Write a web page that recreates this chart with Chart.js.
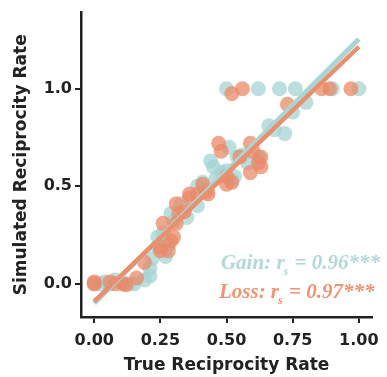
<!DOCTYPE html>
<html><head><meta charset="utf-8">
<script src="https://cdn.jsdelivr.net/npm/chart.js@4.4.1/dist/chart.umd.min.js"></script>
<style>html,body{margin:0;padding:0;background:#fff}#wrap{width:387px;height:377px}</style>
</head><body><div id="wrap"><canvas id="c" width="387" height="377"></canvas></div>
<script>
// ---- data ----
const gainX = [0.00,0.02,0.04,0.06,0.08,0.10,0.13,0.15,0.19,0.21,0.21,0.22,0.24,0.24,0.26,0.27,0.28,0.29,0.30,0.33,0.34,0.35,0.39,0.39,0.41,0.43,0.44,0.45,0.46,0.48,0.50,0.51,0.52,0.53,0.54,0.56,0.58,0.62,0.66,0.68,0.72,0.75,0.80,0.50,0.62,0.70,0.76,0.90,1.00];
const gainY = [0.00,0.00,0.01,0.00,0.02,0.01,0.00,0.00,0.02,0.04,0.08,0.13,0.19,0.24,0.26,0.14,0.20,0.36,0.32,0.41,0.37,0.34,0.40,0.50,0.52,0.48,0.63,0.60,0.54,0.57,0.58,0.70,0.53,0.55,0.65,0.66,0.62,0.65,0.81,0.79,0.77,0.88,0.93,1.00,1.00,1.00,1.00,1.00,1.00];
const lossX = [0.00,0.00,0.06,0.08,0.11,0.12,0.16,0.19,0.25,0.25,0.26,0.28,0.29,0.30,0.31,0.31,0.32,0.34,0.36,0.36,0.39,0.41,0.42,0.43,0.47,0.48,0.50,0.50,0.52,0.55,0.59,0.59,0.60,0.62,0.63,0.63,0.73,0.52,0.56,0.86,0.89,0.97];
const lossY = [0.01,0.00,0.01,0.00,0.00,-0.005,0.03,0.11,0.17,0.19,0.31,0.17,0.22,0.24,0.31,0.41,0.36,0.37,0.44,0.46,0.46,0.51,0.47,0.46,0.72,0.68,0.51,0.55,0.52,0.65,0.72,0.57,0.68,0.62,0.65,0.60,0.92,0.975,1.00,1.00,1.00,1.00];
// fitted regression lines (endpoints)
const fitX = [0, 1];
const gainFitY = [-0.10, 1.255];
const lossFitY = [-0.09, 1.215];
// ticks
const xTicks = [0, 0.25, 0.5, 0.75, 1.0];
const xTickLabels = ['0.00','0.25','0.50','0.75','1.00'];
const yTicks = [0, 0.5, 1.0];
const yTickLabels = ['0.0','0.5','1.0'];
// annotation values
const gainR = '0.96';
const lossR = '0.97';

const TEAL_PT = 'rgba(165,211,211,0.75)';
const ORANGE_PT = 'rgba(234,138,104,0.75)';
const TEAL_LN = '#A9D5D4';
const ORANGE_LN = '#E98F6E';
const AXIS = '#222222';

const pts = (xs, ys) => xs.map((v,i)=>({x:v, y:ys[i]}));

function drawStat(ctx, x0, y0, name, val, color){
  ctx.save();
  ctx.fillStyle = color; ctx.textBaseline = 'alphabetic'; ctx.textAlign = 'left';
  const big = 'italic bold 21px "Liberation Serif"';
  const small = 'italic bold 12px "Liberation Serif"';
  ctx.font = big; let t = name + ': r'; ctx.fillText(t, x0, y0); let w = ctx.measureText(t).width;
  ctx.font = small; ctx.fillText('s', x0 + w - 1, y0 + 6); w += ctx.measureText('s').width;
  ctx.font = big; ctx.fillText(' = ' + val + '***', x0 + w, y0);
  ctx.restore();
}
const annot = {
  id: 'annot',
  afterDatasetsDraw(chart){
    const {ctx, scales:{x, y}} = chart;
    const ax = x.getPixelForValue(0.46);
    drawStat(ctx, ax + 5, y.getPixelForValue(0.077), 'Gain', gainR, '#B3D8D8');
    drawStat(ctx, ax + 3, y.getPixelForValue(-0.072), 'Loss', lossR, '#EC9474');
  }
};

new Chart(document.getElementById('c'), {
  type: 'scatter',
  data: { datasets: [
    {label:'Gain', data: pts(gainX, gainY), backgroundColor: TEAL_PT, borderWidth: 0, pointRadius: 7.5, order: 3},
    {label:'Loss', data: pts(lossX, lossY), backgroundColor: ORANGE_PT, borderWidth: 0, pointRadius: 7.5, order: 2},
    {type:'line', label:'Gain fit', data: pts(fitX, gainFitY), borderColor: TEAL_LN, borderWidth: 5, pointRadius: 0, fill:false, order: 1},
    {type:'line', label:'Loss fit', data: pts(fitX, lossFitY), borderColor: ORANGE_LN, borderWidth: 4.5, pointRadius: 0, fill:false, order: 0}
  ]},
  options: {
    responsive: false, animation: false, devicePixelRatio: 1,
    layout: { padding: {top: 12, right: 9, left: 0, bottom: 0} },
    plugins: { legend: {display:false}, tooltip: {enabled:false} },
    scales: {
      x: {
        type: 'linear', min: -0.05, max: 1.05,
        afterBuildTicks: s => { s.ticks = xTicks.map(v=>({value:v})); },
        afterFit: s => { s.height = 60; },
        border: {display: true, color: AXIS, width: 2.5},
        grid: {drawOnChartArea: false, drawTicks: true, tickLength: 6, color: AXIS, lineWidth: 2},
        ticks: {color: AXIS, padding: 8, font: {family: 'DejaVu Sans', weight: 'bold', size: 16},
                callback: (v, i) => xTickLabels[i]},
        title: {display: true, text: 'True Reciprocity Rate', color: AXIS,
                font: {family: 'DejaVu Sans', weight: 'bold', size: 17, lineHeight: 1.2}, padding: {top: 0, bottom: 1}}
      },
      y: {
        type: 'linear', min: -0.17, max: 1.39,
        afterBuildTicks: s => { s.ticks = yTicks.map(v=>({value:v})); },
        afterFit: s => { s.width = 81; },
        border: {display: true, color: AXIS, width: 2.5},
        grid: {drawOnChartArea: false, drawTicks: true, tickLength: 6, color: AXIS, lineWidth: 2},
        ticks: {color: AXIS, padding: 3, font: {family: 'DejaVu Sans', weight: 'bold', size: 16},
                callback: (v, i) => yTickLabels[i]},
        title: {display: true, text: 'Simulated Reciprocity Rate', color: AXIS,
                font: {family: 'DejaVu Sans', weight: 'bold', size: 17, lineHeight: 1.2}, padding: {top: 11, bottom: 0}}
      }
    }
  },
  plugins: [annot]
});
</script></body></html>
